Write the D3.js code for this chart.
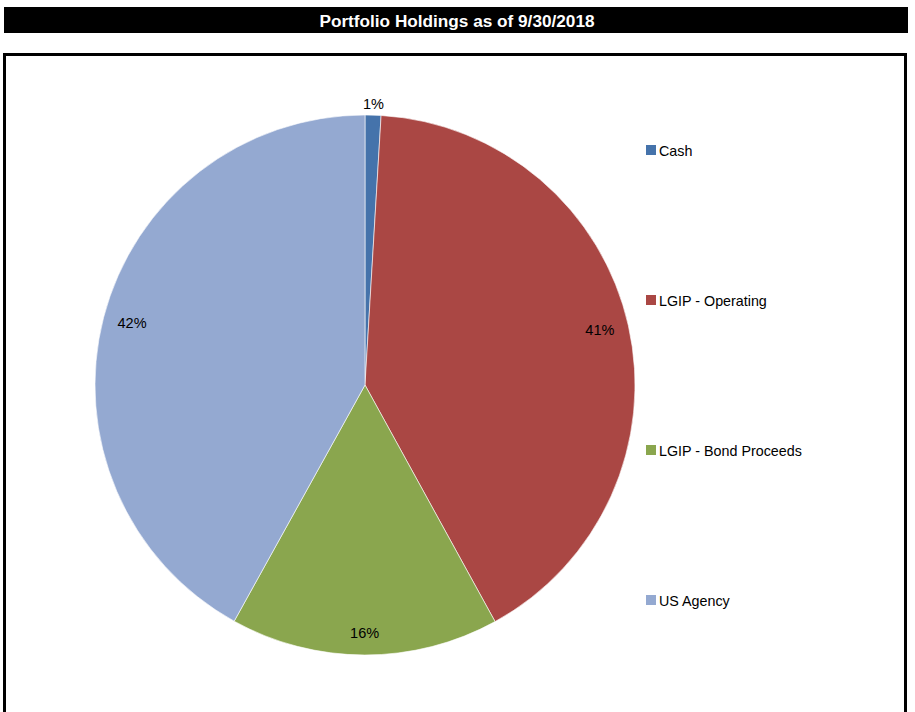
<!DOCTYPE html>
<html>
<head>
<meta charset="utf-8">
<script src="https://cdn.jsdelivr.net/npm/d3@7/dist/d3.min.js"></script>
<style>
  html, body { margin: 0; padding: 0; background: #fff; }
  svg { display: block; }
</style>
</head>
<body>
<svg id="chart" width="915" height="712"></svg>
<script>
const title = "Portfolio Holdings as of 9/30/2018";
const categories = ["Cash", "LGIP - Operating", "LGIP - Bond Proceeds", "US Agency"];
const values = [0.95, 41.05, 16.05, 41.95];
const labels = ["1%", "41%", "16%", "42%"];
const colors = ["#4573AB", "#AA4744", "#8AA64E", "#94A9D1"];

const svg = d3.select("#chart");
const font = "'Liberation Sans', Arial, sans-serif";

// title bar
svg.append("rect").attr("x", 4).attr("y", 7).attr("width", 904).attr("height", 26).attr("fill", "#000");
svg.append("text").attr("x", 457).attr("y", 26.5).attr("text-anchor", "middle")
  .attr("font-family", font).attr("font-weight", "bold").attr("font-size", 17.2)
  .attr("fill", "#fff").text(title);

// chart box
svg.append("rect").attr("x", 4.5).attr("y", 54.5).attr("width", 901).attr("height", 700)
  .attr("fill", "#fff").attr("stroke", "#000").attr("stroke-width", 3);

const cx = 365, cy = 385, r = 270;
const pie = d3.pie().sort(null).value(d => d.v);
const data = categories.map((c, i) => ({ c, v: values[i], l: labels[i], col: colors[i] }));
const arcs = pie(data);
const arc = d3.arc().innerRadius(0).outerRadius(r);

const g = svg.append("g").attr("transform", `translate(${cx},${cy})`);
g.selectAll("path").data(arcs).enter().append("path")
  .attr("d", arc).attr("fill", d => d.data.col)
  .attr("stroke", "#fff").attr("stroke-width", 0.6);

// labels: box placed just inside the rim (outside for the tiny slice)
const lblW = 30, lblH = 15;
g.selectAll("text.lbl").data(arcs).enter().append("text")
  .attr("class", "lbl")
  .attr("transform", d => {
    const a = (d.startAngle + d.endAngle) / 2;
    const sx = Math.sin(a), sy = -Math.cos(a);
    const ext = Math.abs(sx) * lblW / 2 + Math.abs(sy) * lblH / 2;
    const dist = d.data.v < 3 ? r + 3 + ext : r - 13 - ext;
    return `translate(${sx * dist},${sy * dist - (d.data.v < 3 ? 0 : 2)})`;
  })
  .attr("text-anchor", "middle").attr("dy", "0.36em")
  .attr("font-family", font).attr("font-size", 14.5).attr("fill", "#000")
  .text(d => d.data.l);

// legend
const ly = d3.scalePoint().domain(categories).range([150, 600]);
const leg = svg.append("g");
const items = leg.selectAll("g").data(data).enter().append("g")
  .attr("transform", d => `translate(646,${ly(d.c)})`);
items.append("rect").attr("x", 0).attr("y", -5).attr("width", 10).attr("height", 10)
  .attr("fill", d => d.col);
items.append("text").attr("x", 13).attr("y", 5.5)
  .attr("font-family", font).attr("font-size", 14.3).attr("fill", "#000")
  .text(d => d.c);
</script>
</body>
</html>
